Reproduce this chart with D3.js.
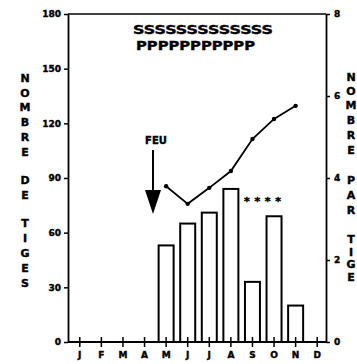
<!DOCTYPE html>
<html>
<head>
<meta charset="utf-8">
<script src="https://cdnjs.cloudflare.com/ajax/libs/d3/7.8.5/d3.min.js"></script>
<style>
  body { margin: 0; background: #fff; }
  svg { display: block; font-family: 'DejaVu Sans', 'Liberation Sans', sans-serif; font-weight: bold; }
  svg text { stroke: #000; stroke-width: 0.4px; }
</style>
</head>
<body>
<div id="chart"></div>
<script>
  // mois, nombre de tiges (barres) et nombre par tige (ligne)
  const months = ['J', 'F', 'M', 'A', 'M2', 'J2', 'J3', 'A2', 'S', 'O', 'N', 'D'];
  const monthLabels = ['J', 'F', 'M', 'A', 'M', 'J', 'J', 'A', 'S', 'O', 'N', 'D'];
  const barMonths = ['M2', 'J2', 'J3', 'A2', 'S', 'O', 'N'];
  const stems = [53, 65, 71, 84, 33, 69, 20];
  const perStem = [3.8, 3.37, 3.76, 4.17, 4.95, 5.44, 5.76];
  const leftTicks = [0, 30, 60, 90, 120, 150, 180];
  const rightTicks = [0, 2, 4, 6, 8];

  const width = 357, height = 364;
  const x0 = 68, x1 = 326, yTop = 14, yBottom = 342;

  const svg = d3.select('#chart').append('svg')
    .attr('width', width).attr('height', height);

  const xScale = d3.scaleBand().domain(months).range([69, 328]);
  const yScale = d3.scaleLinear().domain([0, 180]).range([yBottom, yTop]);
  const yRight = d3.scaleLinear().domain([0, 8]).range([yBottom, yTop]);

  // bars
  const bw = 15;
  svg.selectAll('.bar').data(barMonths).enter().append('rect')
    .attr('class', 'bar')
    .attr('x', (d) => xScale(d) + xScale.bandwidth() / 2 - bw / 2)
    .attr('y', (d, i) => yScale(stems[i]))
    .attr('width', bw)
    .attr('height', (d, i) => yBottom - yScale(stems[i]))
    .style('fill', '#fff').style('stroke', '#000').style('stroke-width', 2);

  // line
  const line = d3.line()
    .x((d, i) => xScale(barMonths[i]) + xScale.bandwidth() / 2)
    .y((d) => yRight(d));
  svg.append('path').datum(perStem)
    .attr('d', line)
    .style('fill', 'none').style('stroke', '#000').style('stroke-width', 1.8);
  svg.selectAll('.pt').data(perStem).enter().append('circle')
    .attr('cx', (d, i) => xScale(barMonths[i]) + xScale.bandwidth() / 2)
    .attr('cy', (d) => yRight(d))
    .attr('r', 2.2).style('fill', '#000');

  // frame top
  svg.append('line').attr('x1', x0).attr('x2', x1).attr('y1', yTop).attr('y2', yTop)
    .style('stroke', '#000').style('stroke-width', 1.5);

  // left axis
  const yAxis = d3.axisLeft(yScale).tickValues(leftTicks).tickSize(4).tickPadding(3).tickSizeOuter(0);
  const gl = svg.append('g').attr('transform', 'translate(' + x0 + ',0)').call(yAxis);
  // right axis
  const yAxisR = d3.axisRight(yRight).tickValues(rightTicks).tickSize(4).tickPadding(4).tickSizeOuter(0);
  const gr = svg.append('g').attr('transform', 'translate(' + x1 + ',0)').call(yAxisR);
  // x axis
  const xAxis = d3.axisBottom(xScale).tickSize(5).tickSizeOuter(0)
    .tickFormat((d, i) => monthLabels[i]);
  const gx = svg.append('g').attr('transform', 'translate(0,' + yBottom + ')').call(xAxis);
  gx.select('.domain').attr('d', 'M' + x0 + ',0H' + x1);
  gx.selectAll('.tick line').attr('y1', -5).attr('y2', 5);
  gx.selectAll('.tick text').attr('y', 10);

  [gl, gr, gx].forEach(function (g) {
    g.attr('font-family', null).attr('font-size', 9);
    g.selectAll('text').style('font-weight', 'bold').style('fill', '#000');
    g.select('.domain').style('stroke-width', 1.8);
    g.selectAll('.tick line').style('stroke-width', 1.5);
  });

  // axis titles, stacked letters
  function stacked(letters, x, ys) {
    svg.append('g').selectAll('text').data(letters).enter().append('text')
      .attr('x', x).attr('y', (d, i) => ys[i])
      .attr('dy', '0.36em')
      .attr('text-anchor', 'middle')
      .style('font-size', '11px')
      .text((d) => d);
  }
  stacked('NOMBREDETIGES'.split(''), 25,
    [78, 93, 107, 122, 137, 152, 180, 195, 223, 238, 253, 268, 283]);
  stacked('NOMBREPARTIGE'.split(''), 351,
    [77, 91, 105, 120, 135, 150, 180, 195, 210, 239, 252, 264, 277]);

  // top legend text
  svg.append('text').attr('x', 133).attr('y', 34)
    .attr('textLength', 140).attr('lengthAdjust', 'spacingAndGlyphs')
    .style('font-size', '12px').text('SSSSSSSSSSSSS');
  svg.append('text').attr('x', 136).attr('y', 50)
    .attr('textLength', 119).attr('lengthAdjust', 'spacingAndGlyphs')
    .style('font-size', '12px').text('PPPPPPPPPPP');

  // fire annotation
  svg.append('text').attr('x', 156).attr('y', 144).attr('text-anchor', 'middle')
    .style('font-size', '10px').text('FEU');
  svg.append('line').attr('x1', 153).attr('x2', 153).attr('y1', 150).attr('y2', 194)
    .style('stroke', '#000').style('stroke-width', 2);
  svg.append('path').attr('d', 'M145,190L161,190L153,214Z').style('fill', '#000');

  // significance
  svg.append('text').attr('x', 244).attr('y', 205)
    .attr('textLength', 37).attr('lengthAdjust', 'spacing')
    .style('font-size', '11px').text('****');
</script>
</body>
</html>
